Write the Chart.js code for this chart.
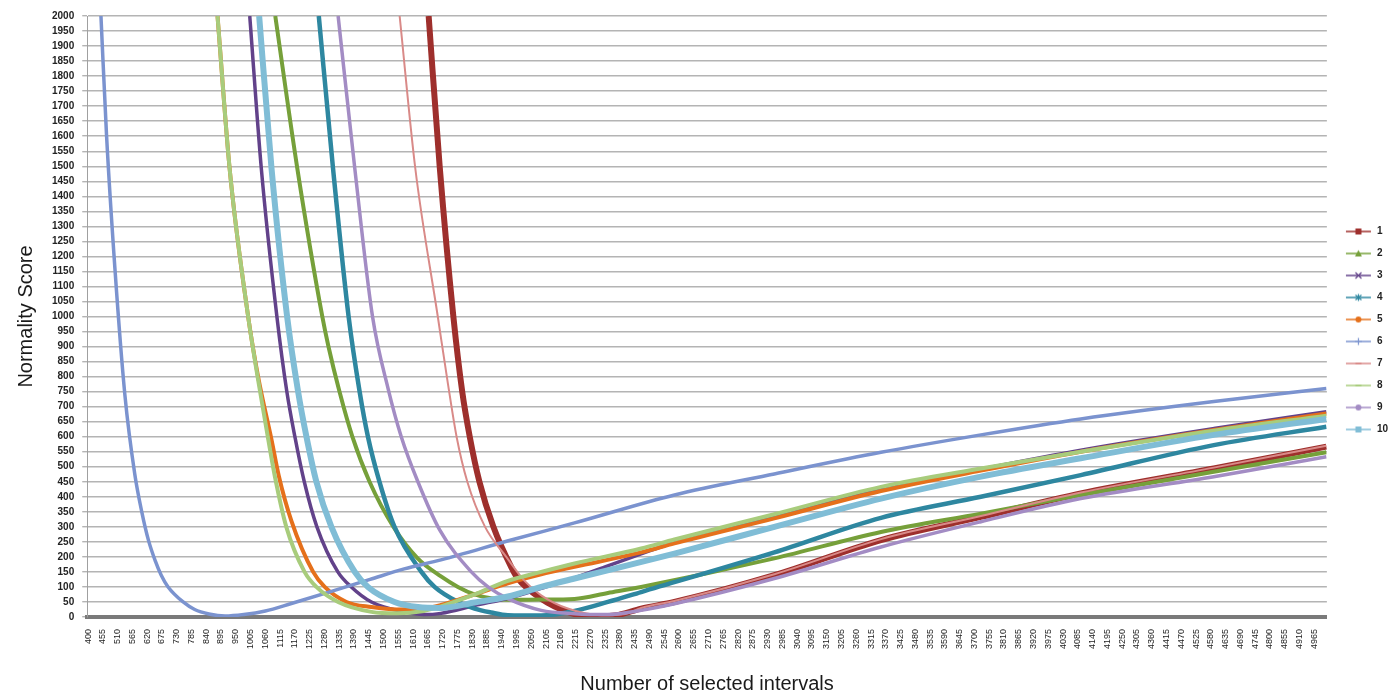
<!DOCTYPE html>
<html>
<head>
<meta charset="utf-8">
<script src="https://cdn.jsdelivr.net/npm/chart.js@4.4.1/dist/chart.umd.min.js"></script>
<style>
  html, body { margin: 0; padding: 0; background: #fff; }
  #wrap { width: 1394px; height: 693px; position: relative; }
</style>
</head>
<body>
<div id="wrap"><canvas id="chart"></canvas></div>
<script>
// values: [number of intervals, normality score]
const SERIES_NAMES = ['1', '2', '3', '4', '5', '6', '7', '8', '9', '10'];

const S1 = [[1668, 2000], [1709, 1500], [1760, 1000], [1793, 750], [1821, 600], [1857, 450], [1909, 300],
    [1976, 165], [2000, 128], [2087, 61], [2186, 17], [2261, 2], [2360, 5], [2459, 28], [2583, 50],
    [2955, 139], [3352, 256], [3724, 333], [4096, 411], [4591, 494], [5010, 567]];
const S2 = [[1097, 2000], [1179, 1493], [1272, 1000], [1295, 900], [1336, 750], [1384, 600], [1448, 450],
    [1537, 300], [1628, 194], [1714, 135], [1777, 100], [1839, 75], [1900, 62], [1963, 57], [2087, 58],
    [2211, 60], [2335, 80], [2459, 100], [2955, 195], [3352, 283], [3724, 344], [4096, 406], [4591, 483], [5010, 548]];
const S3 = [[1002, 2000], [1045, 1493], [1103, 1000], [1140, 750], [1170, 600], [1205, 450], [1252, 300],
    [1330, 150], [1380, 100], [1455, 50], [1577, 17], [1650, 8], [1714, 12], [1839, 38], [1975, 65],
    [2087, 95], [2211, 130], [2335, 170], [2459, 210], [2583, 248], [2955, 332], [3352, 425], [3724, 492],
    [4096, 555], [4591, 627], [5010, 683]];
const S4 = [[1259, 2000], [1312, 1493], [1370, 1000], [1411, 750], [1442, 600], [1485, 450], [1541, 300],
    [1641, 150], [1690, 100], [1777, 50], [1839, 28], [1901, 15], [1963, 6], [2087, 5], [2211, 20],
    [2335, 50], [2459, 83], [2955, 215], [3352, 330], [3724, 400], [4096, 472], [4591, 572], [5010, 633]];
const S5 = [[882, 2000], [927, 1493], [996, 1000], [1033, 800], [1083, 590], [1110, 470], [1157, 320],
    [1238, 150], [1281, 100], [1362, 50], [1455, 33], [1550, 25], [1650, 28], [1714, 40], [1839, 75],
    [1963, 112], [2087, 142], [2211, 167], [2459, 215], [2583, 245], [2955, 328], [3352, 419], [3724, 487],
    [4096, 550], [4591, 622], [5010, 677]];
const S6 = [[448, 2000], [469, 1600], [500, 1160], [537, 740], [574, 475], [600, 350], [625, 255], [651, 185],
    [672, 140], [698, 100], [754, 50], [797, 25], [850, 10], [910, 3], [980, 8], [1060, 20], [1157, 45],
    [1306, 85], [1450, 125], [1577, 160], [1714, 190], [1975, 256], [2211, 313], [2583, 406], [2955, 476],
    [3352, 548], [3724, 606], [4096, 659], [4591, 717], [5010, 760]];
const S7 = [[1560, 2000], [1618, 1495], [1702, 1000], [1740, 775], [1772, 600], [1812, 450], [1878, 300],
    [1957, 200], [2025, 120], [2087, 72], [2186, 28], [2311, 6], [2400, 10], [2459, 30], [2583, 53],
    [2955, 142], [3352, 259], [3724, 336], [4096, 414], [4591, 497], [5010, 570]];
const S8 = [[882, 2000], [927, 1493], [996, 1000], [1033, 790], [1071, 590], [1095, 470], [1138, 300],
    [1206, 150], [1250, 100], [1331, 50], [1455, 17], [1550, 12], [1650, 20], [1714, 35], [1839, 75],
    [1963, 120], [2087, 150], [2211, 178], [2459, 228], [2583, 258], [2955, 342], [3352, 433], [3724, 494],
    [4096, 550], [4591, 620], [5010, 670]];
const S9 = [[1331, 2000], [1393, 1493], [1459, 1000], [1517, 760], [1566, 600], [1628, 450], [1709, 290],
    [1827, 150], [1889, 100], [1963, 61], [2087, 22], [2211, 11], [2335, 8], [2459, 22], [2583, 44],
    [2955, 128], [3352, 233], [3724, 317], [4096, 394], [4591, 467], [5010, 533]];
const S10 = [[1037, 2000], [1083, 1493], [1141, 1000], [1182, 750], [1213, 600], [1250, 450], [1306, 300],
    [1393, 150], [1442, 100], [1541, 50], [1628, 33], [1714, 30], [1839, 48], [1963, 68], [2087, 100],
    [2211, 128], [2583, 211], [2955, 300], [3352, 394], [3724, 467], [4096, 528], [4591, 606], [5010, 659]];

const SERIES = [S1, S2, S3, S4, S5, S6, S7, S8, S9, S10];

// category labels shown under the axis (every 11th interval count)
const X_TICKS = Array.from({length: 84}, (_, i) => 400 + i * 55);

const COLORS = ['#9e2f2c', '#76a03a', '#62428a', '#2e87a0', '#e5701b', '#7b93cf', '#d98a88', '#a8cc7c', '#a38cc4', '#80bdd6'];
const WIDTHS = [6, 4, 3.5, 4.5, 4, 3.5, 2, 4, 3.5, 6];
const MARKERS = ['rect', 'triangle', 'crossRot', 'star', 'circle', 'cross', 'dash', 'dash', 'circle', 'rect'];

// legend swatch: short line with the marker in the middle (left part left blank as spacing)
function legendIcon(color, marker) {
    const c = document.createElement('canvas');
    c.width = 33;
    c.height = 10;
    const ctx = c.getContext('2d');
    const m = 19.5;
    ctx.strokeStyle = color;
    ctx.fillStyle = color;
    ctx.lineWidth = 1.5;
    ctx.beginPath();
    ctx.moveTo(7, 5);
    ctx.lineTo(32, 5);
    ctx.stroke();
    ctx.lineWidth = 1.2;
    ctx.beginPath();
    switch (marker) {
        case 'rect': ctx.fillRect(m - 3, 2, 6, 6); break;
        case 'triangle': ctx.moveTo(m, 1.5); ctx.lineTo(m + 3.5, 8); ctx.lineTo(m - 3.5, 8); ctx.closePath(); ctx.fill(); break;
        case 'crossRot': ctx.moveTo(m - 3, 2); ctx.lineTo(m + 3, 8); ctx.moveTo(m + 3, 2); ctx.lineTo(m - 3, 8); ctx.stroke(); break;
        case 'star': ctx.moveTo(m, 1.5); ctx.lineTo(m, 8.5); ctx.moveTo(m - 3, 2.5); ctx.lineTo(m + 3, 7.5); ctx.moveTo(m + 3, 2.5); ctx.lineTo(m - 3, 7.5); ctx.stroke(); break;
        case 'circle': ctx.arc(m, 5, 3, 0, Math.PI * 2); ctx.fill(); break;
        case 'cross': ctx.moveTo(m, 1.5); ctx.lineTo(m, 8.5); ctx.moveTo(m - 3.5, 5); ctx.lineTo(m + 3.5, 5); ctx.stroke(); break;
        default: ctx.fillRect(m - 3, 4, 6, 2);
    }
    return c;
}

const ICONS = COLORS.map((c, i) => legendIcon(c, MARKERS[i]));

new Chart(document.getElementById('chart'), {
    type: 'line',
    data: {
        datasets: SERIES.map((s, i) => ({
            label: SERIES_NAMES[i],
            data: s.map(([x, y]) => ({x, y})),
            borderColor: COLORS[i],
            backgroundColor: COLORS[i],
            borderWidth: WIDTHS[i],
            pointRadius: 0,
            cubicInterpolationMode: 'monotone',
            order: -i, // later series drawn on top, like the original
        })),
    },
    options: {
        responsive: true,
        maintainAspectRatio: false,
        animation: false,
        layout: {padding: {top: 16, left: 14, right: -4, bottom: -3}},
        scales: {
            x: {
                type: 'linear',
                min: 397,
                max: 5012,
                afterBuildTicks: axis => { axis.ticks = X_TICKS.map(v => ({value: v})); },
                grid: {drawOnChartArea: false, drawTicks: false},
                border: {display: true, color: '#7a7a7a', width: 4},
                ticks: {
                    autoSkip: false,
                    maxRotation: 90,
                    minRotation: 90,
                    padding: 12,
                    color: '#222',
                    font: {family: "'Liberation Sans Narrow', 'Liberation Sans'", size: 9},
                    callback: v => String(v),
                },
                title: {
                    display: true,
                    text: 'Number of selected intervals',
                    color: '#1a1a1a',
                    font: {family: "'Liberation Sans'", size: 20},
                    padding: {top: 11, bottom: 0},
                },
            },
            y: {
                min: 0,
                max: 2000,
                ticks: {
                    stepSize: 50,
                    autoSkip: false,
                    padding: 8,
                    color: '#222',
                    font: {family: "'Liberation Sans'", size: 10, weight: 'bold'},
                    callback: v => String(v),
                },
                grid: {color: '#b4b4b4', lineWidth: 1.4, tickLength: 5},
                border: {display: true, color: '#a0a0a0', width: 1},
                title: {
                    display: true,
                    text: 'Normality Score',
                    color: '#1a1a1a',
                    font: {family: "'Liberation Sans'", size: 20},
                    padding: {top: 0, bottom: 6},
                },
            },
        },
        plugins: {
            legend: {
                position: 'right',
                fullSize: false,
                title: {display: true, text: ' ', font: {size: 10}, padding: 8},
                labels: {
                    usePointStyle: true,
                    pointStyleWidth: 33,
                    padding: 12,
                    color: '#222',
                    font: {family: "'Liberation Sans'", size: 10, weight: 'bold'},
                    generateLabels: chart => chart.data.datasets.map((ds, i) => ({
                        text: ds.label,
                        pointStyle: ICONS[i],
                        fillStyle: ds.borderColor,
                        strokeStyle: ds.borderColor,
                        lineWidth: 0,
                        fontColor: '#222',
                        hidden: false,
                        datasetIndex: i,
                    })),
                },
            },
            tooltip: {enabled: false},
        },
    },
});
</script>
</body>
</html>
